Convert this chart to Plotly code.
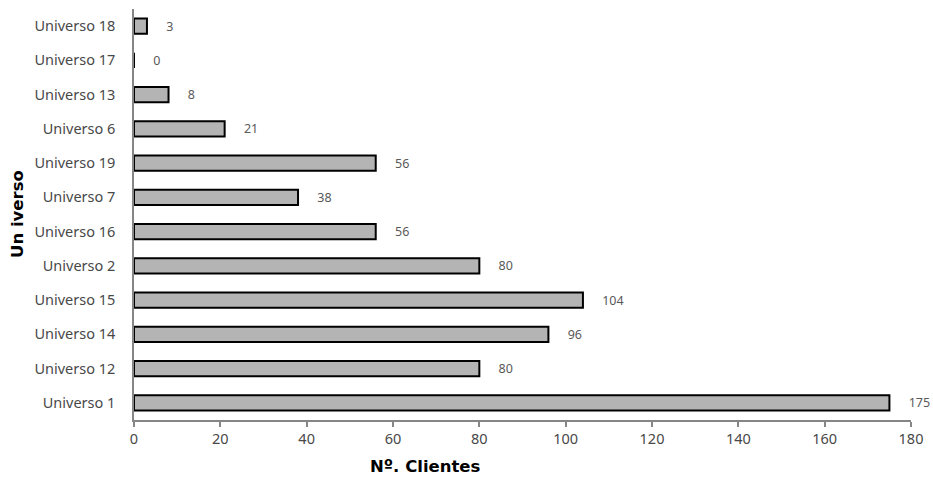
import plotly.graph_objects as go

categories = ["Universo 1", "Universo 12", "Universo 14", "Universo 15", "Universo 2",
              "Universo 16", "Universo 7", "Universo 19", "Universo 6", "Universo 13",
              "Universo 17", "Universo 18"]
values = [175, 80, 96, 104, 80, 56, 38, 56, 21, 8, 0, 3]
x_ticks = [0, 20, 40, 60, 80, 100, 120, 140, 160, 180]

font_family = "Noto Sans, DejaVu Sans, sans-serif"
title_family = "DejaVu Sans, Verdana, sans-serif"

fig = go.Figure(go.Bar(
    y=categories,
    x=values,
    orientation="h",
    marker=dict(color="#b4b4b4", line=dict(color="#000000", width=2)),
    text=values,
    texttemplate="     %{x}",
    textposition="outside",
    constraintext="none",
    textfont=dict(size=12.5, color="#595959", family=font_family),
    cliponaxis=False,
))

fig.update_layout(
    width=933, height=479,
    margin=dict(l=134, r=22, t=9, b=59),
    paper_bgcolor="white", plot_bgcolor="white",
    bargap=0.56,
    showlegend=False,
    font=dict(family=font_family, color="#484848", size=14.5),
    annotations=[
        dict(text="<b>Nº. Clientes</b>", xref="paper", yref="paper",
             x=(425 - 134) / 777, y=-(466 - 420) / 411, xanchor="center", yanchor="middle",
             showarrow=False, font=dict(family=title_family, size=16.5, color="#000000")),
        dict(text="<b>Un iverso</b>", xref="paper", yref="paper", textangle=-90,
             x=(17.5 - 134) / 777, y=0.5, xanchor="center", yanchor="middle",
             showarrow=False, font=dict(family=title_family, size=16.5, color="#000000")),
    ],
)
fig.update_xaxes(
    range=[0, 180], tickvals=x_ticks, showgrid=False, zeroline=False,
    showline=True, linecolor="#868686", linewidth=1.5,
    ticks="outside", ticklen=5, tickcolor="#868686", tickwidth=1.5,
    tickfont=dict(size=14.5, color="#484848"), automargin=False,
)
fig.update_yaxes(
    categoryorder="array", categoryarray=categories,
    showgrid=False, zeroline=False,
    showline=True, linecolor="#868686", linewidth=1.5,
    ticks="", ticklabelstandoff=14,
    tickfont=dict(size=14.5, color="#484848"), automargin=False,
)

fig.write_html(
    "out.html",
    config={"displayModeBar": False},
    post_script="document.body.style.margin='0';document.body.style.overflow='hidden';",
)
